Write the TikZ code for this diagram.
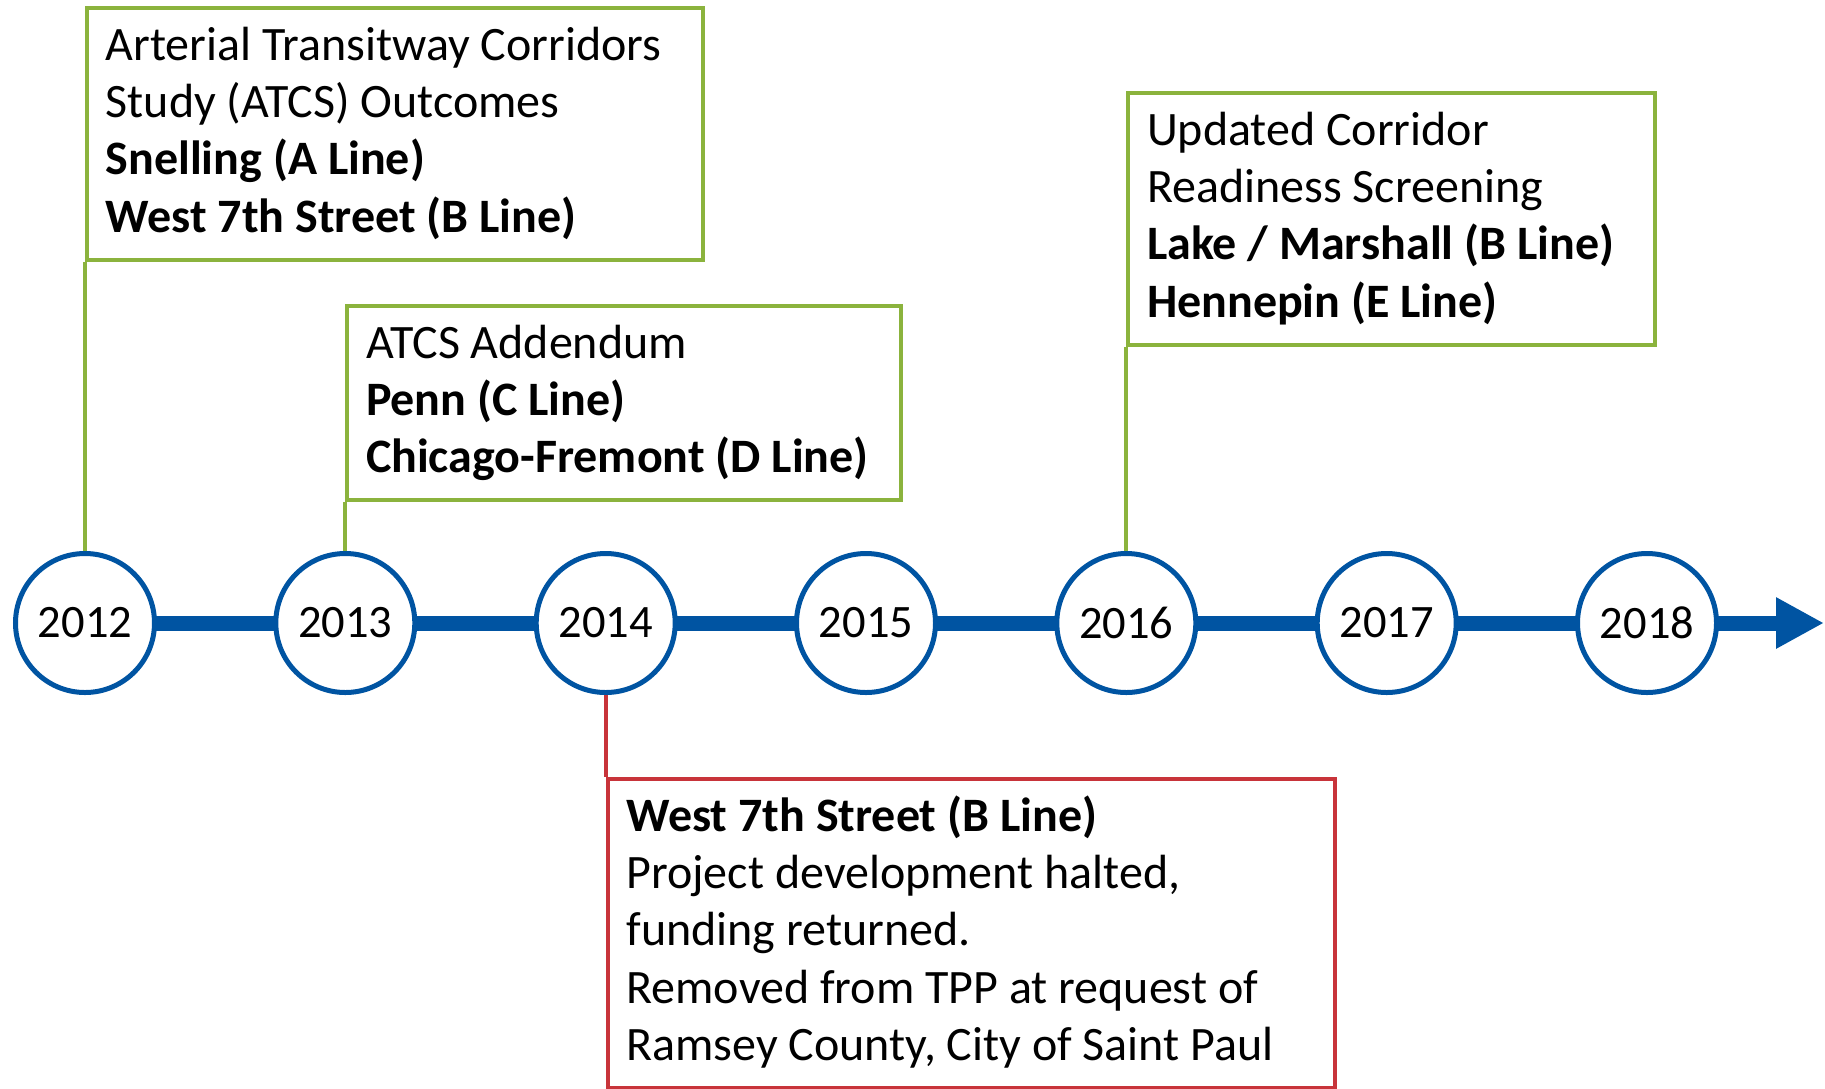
\documentclass[tikz,border=0pt]{standalone}
\usepackage{fontspec}
\setmainfont{Carlito}
\usetikzlibrary{arrows.meta,backgrounds}
\definecolor{tlblue}{HTML}{0054A2}
\definecolor{tlgreen}{HTML}{8BB33D}
\definecolor{tlred}{HTML}{C8343A}
\begin{document}
\begin{tikzpicture}[x=1pt,y=-1pt,
  year/.style={circle,draw=tlblue,line width=5pt,fill=white,minimum size=139pt,inner sep=0pt,font=\fontsize{46.5}{56}\selectfont},
  gbox/.style={draw=tlgreen,line width=4pt,anchor=north west,inner sep=0pt},
  rbox/.style={draw=tlred,line width=4pt,anchor=north west,inner sep=0pt},
  txt/.style={anchor=base west,inner sep=0pt,font=\fontsize{48}{56}\selectfont},
  btxt/.style={anchor=base west,inner sep=0pt,font=\fontsize{48}{56}\selectfont\bfseries},
  gconn/.style={draw=tlgreen,line width=4pt},
  rconn/.style={draw=tlred,line width=4pt},
  bar/.style={draw=tlblue,line width=15pt,-{Triangle[length=48pt,width=48pt]}}
]
\useasboundingbox (0,0) rectangle (1825,1088);

% year circles
\node[year] (c2012) at (85,623) {2012};
\node[year] (c2013) at (345.3,623) {2013};
\node[year] (c2014) at (605.7,623) {2014};
\node[year] (c2015) at (866,623) {2015};
\node[year] (c2016) at (1126.3,623) {2016};
\node[year] (c2017) at (1386.7,623) {2017};
\node[year] (c2018) at (1647,623) {2018};
\coordinate (arrowend) at (1824,623);

\begin{scope}[on background layer]
  \draw[bar] (c2012.center) -- (arrowend);
\end{scope}

% boxes
\node[gbox,minimum width=616pt,minimum height=252pt] (b1) at (85,6) {};
\node[gbox,minimum width=553.7pt,minimum height=194pt] (b2) at (345.3,304) {};
\node[gbox,minimum width=526.7pt,minimum height=252pt] (b3) at (1126.3,91) {};
\node[rbox,minimum width=727.3pt,minimum height=309pt] (rb) at (605.7,777) {};

% connectors
\draw[gconn] (b1.south west) -- (b1.south west |- c2012.north);
\draw[gconn] (b2.south west) -- (b2.south west |- c2013.north);
\draw[gconn] (b3.south west) -- (b3.south west |- c2016.north);
\draw[rconn] (c2014.south) -- (c2014.south |- rb.north west);

% box 1 text
\node[txt]  (t1a) at (105.5,60)   {Arterial Transitway Corridors};
\node[txt]  (t1b) at (105.5,117.4) {Study (ATCS) Outcomes};
\node[btxt] (t1c) at (105.5,174.8) {Snelling (A Line)};
\node[btxt] (t1d) at (105.5,232.2) {West 7th Street (B Line)};

% box 2 text
\node[txt]  (t2a) at (365.8,358)   {ATCS Addendum};
\node[btxt] (t2b) at (365.8,415.4) {Penn (C Line)};
\node[btxt] (t2c) at (365.8,472.8) {Chicago-Fremont (D Line)};

% box 3 text
\node[txt]  (t3a) at (1146.8,145)   {Updated Corridor};
\node[txt]  (t3b) at (1146.8,202.4) {Readiness Screening};
\node[btxt] (t3c) at (1146.8,259.8) {Lake / Marshall (B Line)};
\node[btxt] (t3d) at (1146.8,317.2) {Hennepin (E Line)};

% red box text
\node[btxt] (t4a) at (626.2,831)    {West 7th Street (B Line)};
\node[txt]  (t4b) at (626.2,888.4)  {Project development halted,};
\node[txt]  (t4c) at (626.2,945.8)  {funding returned.};
\node[txt]  (t4d) at (626.2,1003.2) {Removed from TPP at request of};
\node[txt]  (t4e) at (626.2,1060.6) {Ramsey County, City of Saint Paul};
\end{tikzpicture}
\end{document}
